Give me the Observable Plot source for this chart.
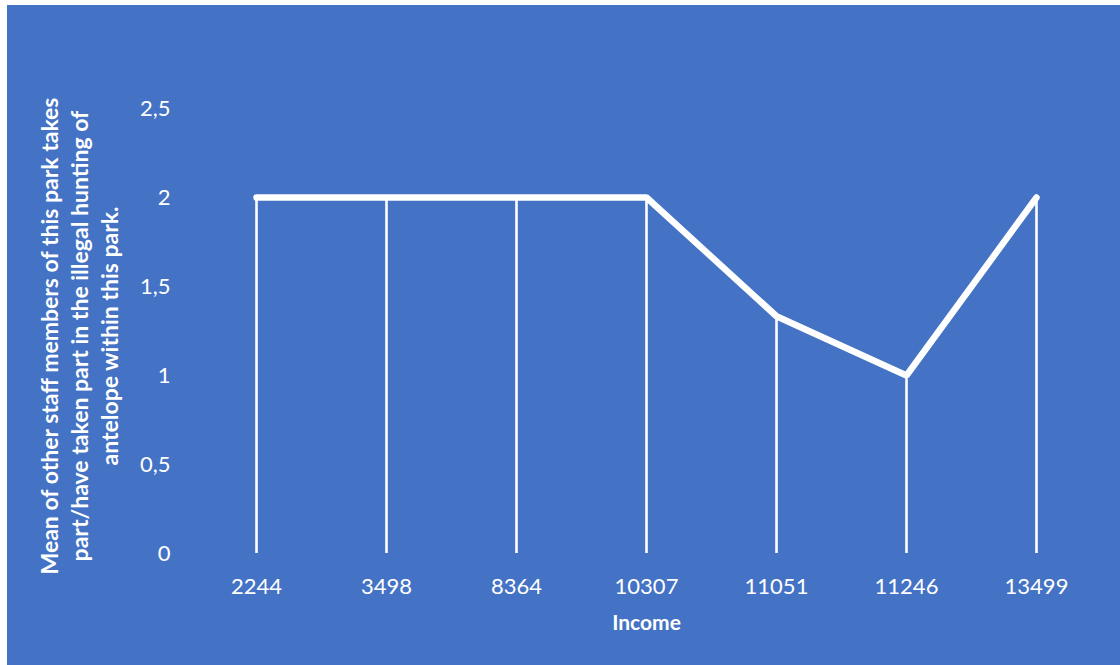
<!DOCTYPE html>
<html>
<head>
<meta charset="utf-8">
<script src="https://cdn.jsdelivr.net/npm/d3@7"></script>
<script src="https://cdn.jsdelivr.net/npm/@observablehq/plot@0.6"></script>
<style>
  html, body { margin: 0; padding: 0; background: #ffffff; }
  #panel { position: absolute; left: 7px; top: 5px; width: 1113px; height: 660px; background: #4472C4; overflow: hidden; }
</style>
</head>
<body>
<div id="panel"></div>
<script>
const incomes = ["2244", "3498", "8364", "10307", "11051", "11246", "13499"];
const means = [2, 2, 2, 2, 1.333, 1, 2];
const yTicks = [0, 0.5, 1, 1.5, 2, 2.5];
const xTitle = "Income";
const yTitle = "Mean of other staff members of this park takes\npart/have taken part in the illegal hunting of\nantelope within this park.";

const data = incomes.map((c, i) => ({income: c, mean: means[i]}));

const chart = Plot.plot({
  width: 1113,
  height: 660,
  marginLeft: 184,
  marginRight: 19,
  marginTop: 103,
  marginBottom: 112,
  style: {background: "transparent", color: "#ffffff", fontFamily: "Lato, 'Open Sans', sans-serif", fontSize: "22px"},
  x: {type: "band", domain: incomes, padding: 0, align: 0.5},
  y: {domain: [0, 2.5]},
  marks: [
    Plot.axisY({ticks: yTicks, tickSize: 0, tickPadding: 21, tickFormat: d => String(d).replace(".", ","), label: null, fontSize: 22, fill: "#ffffff"}),
    Plot.axisX({tickSize: 0, tickPadding: 25, label: null, fontSize: 22, fill: "#ffffff"}),
    Plot.ruleX(data, {x: "income", y1: 0, y2: "mean", stroke: "#ffffff", strokeWidth: 2.6}),
    Plot.line(data, {x: "income", y: "mean", stroke: "#ffffff", strokeWidth: 6.5, strokeLinejoin: "miter", strokeLinecap: "round"}),
    Plot.text([xTitle], {frameAnchor: "bottom", dy: 76, text: d => d, fill: "#ffffff", fontWeight: "bold", fontSize: 21}),
    Plot.text([yTitle], {frameAnchor: "left", dx: -113, dy: 5, rotate: -90, text: d => d, fill: "#ffffff", fontWeight: "bold", fontSize: 23, lineHeight: 1.3, textAnchor: "middle", lineAnchor: "middle"})
  ]
});
document.getElementById("panel").appendChild(chart);
</script>
</body>
</html>
